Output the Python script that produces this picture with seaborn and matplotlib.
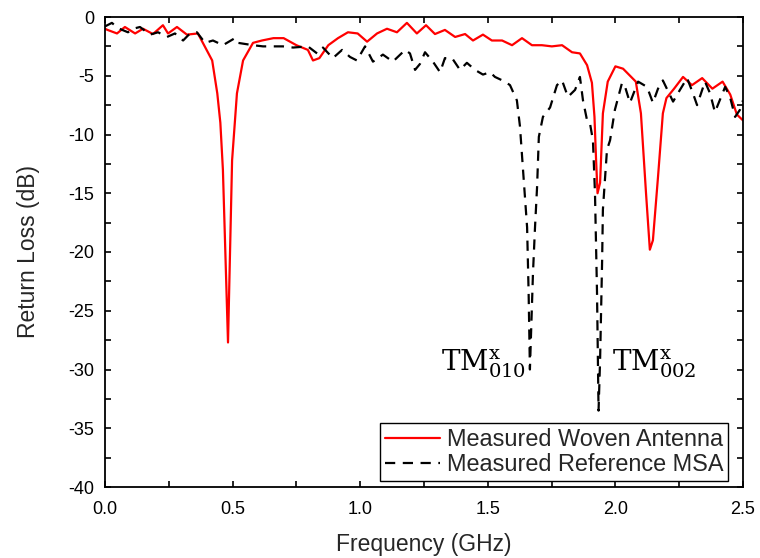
import matplotlib
matplotlib.use("Agg")
import matplotlib.pyplot as plt
import seaborn as sns
import pandas as pd
from matplotlib.ticker import MultipleLocator

# ---- data ----
red_freq = [0.0, 0.01, 0.047, 0.078, 0.118, 0.149, 0.188, 0.227, 0.247, 0.282,
            0.321, 0.364, 0.42, 0.44, 0.452, 0.462, 0.482, 0.498, 0.517, 0.541,
            0.58, 0.615, 0.66, 0.70, 0.75, 0.795, 0.815, 0.84, 0.875, 0.913,
            0.952, 0.99, 1.027, 1.066, 1.105, 1.144, 1.183, 1.222, 1.258, 1.293,
            1.332, 1.372, 1.411, 1.442, 1.481, 1.516, 1.556, 1.595, 1.634, 1.673,
            1.712, 1.751, 1.791, 1.83, 1.861, 1.889, 1.908, 1.918, 1.924, 1.93,
            1.94, 1.951, 1.97, 2.0, 2.03, 2.08, 2.10, 2.12, 2.135, 2.147,
            2.167, 2.186, 2.20, 2.23, 2.265, 2.30, 2.34, 2.38, 2.42, 2.45,
            2.476, 2.5]
red_db = [-1.0, -1.1, -1.4, -0.85, -1.4, -1.0, -1.45, -0.7, -1.4, -0.85,
          -1.5, -1.4, -3.7, -6.5, -9.0, -13.0, -27.7, -12.2, -6.5, -3.7,
          -2.2, -2.0, -1.8, -1.8, -2.4, -2.8, -3.7, -3.5, -2.4, -1.8,
          -1.3, -1.4, -2.1, -1.4, -1.0, -1.3, -0.5, -1.4, -0.7, -1.45,
          -1.1, -1.7, -1.45, -2.0, -1.5, -2.0, -2.0, -2.4, -1.8, -2.4,
          -2.4, -2.5, -2.4, -3.0, -3.1, -4.1, -5.6, -8.5, -12.0, -15.0,
          -14.1, -8.2, -5.5, -4.2, -4.4, -5.5, -8.2, -15.0, -19.8, -19.0,
          -13.6, -8.2, -6.9, -6.1, -5.1, -5.8, -5.2, -6.1, -5.5, -6.6,
          -8.3, -8.8]

blk_freq = [0.0, 0.027, 0.051, 0.09, 0.11, 0.137, 0.176, 0.208, 0.243, 0.274,
            0.306, 0.333, 0.36, 0.392, 0.423, 0.462, 0.509, 0.521, 0.58, 0.619,
            0.658, 0.697, 0.737, 0.795, 0.831, 0.854, 0.893, 0.929, 0.96, 0.987,
            1.019, 1.05, 1.089, 1.128, 1.176, 1.195, 1.215, 1.234, 1.254, 1.285,
            1.313, 1.332, 1.36, 1.391, 1.418, 1.45, 1.481, 1.509, 1.528, 1.567,
            1.587, 1.614, 1.626, 1.638, 1.654, 1.66, 1.665, 1.677, 1.685, 1.693,
            1.70, 1.716, 1.744, 1.771, 1.791, 1.814, 1.842, 1.861, 1.873, 1.889,
            1.90, 1.912, 1.92, 1.928, 1.934, 1.94, 1.948, 1.951, 1.967, 1.979,
            1.998, 2.026, 2.038, 2.057, 2.089, 2.124, 2.147, 2.167, 2.186, 2.226,
            2.253, 2.281, 2.304, 2.32, 2.351, 2.371, 2.39, 2.43, 2.449, 2.469,
            2.488, 2.5]
blk_db = [-0.8, -0.5, -0.95, -1.3, -1.0, -0.85, -1.5, -1.3, -1.7, -1.4,
          -2.0, -1.4, -1.3, -2.2, -2.0, -2.4, -1.8, -2.2, -2.4, -2.5,
          -2.5, -2.5, -2.6, -2.5, -3.1, -2.6, -3.5, -2.8, -3.4, -3.7,
          -2.5, -3.8, -3.2, -3.8, -2.8, -3.1, -4.5, -4.0, -3.0, -3.8,
          -4.7, -3.5, -3.5, -4.5, -3.9, -4.5, -4.9, -4.7, -5.1, -5.5,
          -5.8, -7.1, -9.3, -13.0, -17.9, -23.5, -30.0, -21.8, -17.9, -14.5,
          -10.2, -8.5, -7.7, -5.8, -5.4, -6.8, -6.2, -5.1, -7.1, -8.8,
          -9.0, -10.5, -15.0, -23.5, -33.5, -29.2, -20.7, -16.4, -11.3, -10.5,
          -7.9, -5.6, -5.95, -7.3, -5.5, -5.95, -7.3, -6.1, -5.4, -7.2,
          -6.2, -5.2, -6.5, -7.5, -5.5, -6.5, -8.1, -5.95, -6.8, -8.5,
          -7.9, -7.1]

series_labels = ["Measured Woven Antenna", "Measured Reference MSA"]
x_label = "Frequency (GHz)"
y_label = "Return Loss (dB)"
annot_texts = [r"$\mathrm{TM}^{\mathrm{x}}_{\mathrm{010}}$",
               r"$\mathrm{TM}^{\mathrm{x}}_{\mathrm{002}}$"]
annot_pos = [(1.317, -30.1), (1.987, -30.1)]

# ---- style ----
sns.set_style("ticks")
plt.rcParams["font.family"] = ["Liberation Sans", "DejaVu Sans"]
plt.rcParams["mathtext.fontset"] = "dejavuserif"

fig = plt.figure(figsize=(7.6, 5.58), dpi=100)
ax = fig.add_axes([105 / 760, 1 - 487 / 558, 638 / 760, 470 / 558])

df_red = pd.DataFrame({"f": red_freq, "db": red_db})
df_blk = pd.DataFrame({"f": blk_freq, "db": blk_db})

sns.lineplot(data=df_red, x="f", y="db", ax=ax, color="#ff0000", lw=1.6,
             estimator=None, sort=False, label=series_labels[0])
sns.lineplot(data=df_blk, x="f", y="db", ax=ax, color="black", lw=1.6,
             linestyle=(0, (4.6, 3.4)), estimator=None, sort=False,
             label=series_labels[1])

ax.set_xlim(0, 2.5)
ax.set_ylim(-40, 0)
ax.xaxis.set_major_locator(MultipleLocator(0.5))
ax.xaxis.set_minor_locator(MultipleLocator(0.25))
ax.yaxis.set_major_locator(MultipleLocator(5))
ax.yaxis.set_minor_locator(MultipleLocator(2.5))
ax.xaxis.set_major_formatter(matplotlib.ticker.FormatStrFormatter("%.1f"))
ax.yaxis.set_major_formatter(matplotlib.ticker.FormatStrFormatter("%d"))

for sp in ax.spines.values():
    sp.set_visible(True)
    sp.set_color("black")
    sp.set_linewidth(1.3)

ax.tick_params(which="both", direction="in", top=True, right=True,
               length=4, width=1.2, color="black")
ax.tick_params(axis="x", which="major", labelsize=13, pad=10, labelcolor="black")
ax.tick_params(axis="y", which="major", labelsize=13, pad=7.5, labelcolor="black")

ax.set_xlabel(x_label, fontsize=16.5, labelpad=11)
ax.set_ylabel(y_label, fontsize=16.5, labelpad=20.5)

for txt, (xx, yy) in zip(annot_texts, annot_pos):
    ax.text(xx, yy, txt, fontsize=20, ha="left", va="baseline", color="black")

leg = ax.legend(loc="lower right", bbox_to_anchor=(0.9765, 0.0128),
                borderaxespad=0, fontsize=16.9, frameon=True, fancybox=False,
                framealpha=1, edgecolor="black", handlelength=2.35,
                handletextpad=0.3, labelspacing=0.1, borderpad=0.2)
leg.get_frame().set_linewidth(1.0)

fig.savefig("out.png", dpi=100)
